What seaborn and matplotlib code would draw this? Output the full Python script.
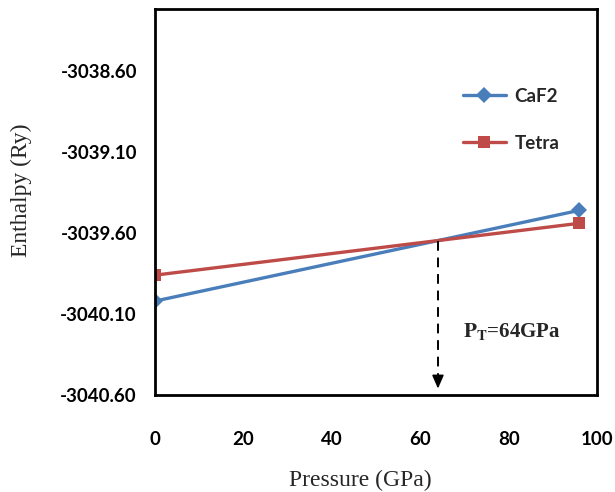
import numpy as np
import pandas as pd
import matplotlib
matplotlib.use("Agg")
import matplotlib.pyplot as plt
import seaborn as sns

# Enthalpy vs pressure for two phases
pressure = [0, 96]
caf2_enthalpy = [-3040.02, -3039.46]
tetra_enthalpy = [-3039.86, -3039.54]
phases = ["CaF2", "Tetra"]
yticks = [-3040.60, -3040.10, -3039.60, -3039.10, -3038.60]
xticks = [0, 20, 40, 60, 80, 100]
transition_label = r"$\mathbf{P_T}$=64GPa"

df = pd.DataFrame({
    "Pressure": pressure * 2,
    "Enthalpy": caf2_enthalpy + tetra_enthalpy,
    "Phase": [phases[0]] * 2 + [phases[1]] * 2,
})

sns.set_style("white")
plt.rcParams["font.family"] = ["Lato", "DejaVu Sans"]

fig = plt.figure(figsize=(6.15, 4.92), dpi=100)
ax = fig.add_axes([0.252, 0.197, 0.719, 0.784])

palette = {"CaF2": "#4A7EBB", "Tetra": "#BE4B48"}
markers = {"CaF2": "D", "Tetra": "s"}
sns.lineplot(data=df, x="Pressure", y="Enthalpy", hue="Phase", style="Phase",
             palette=palette, markers=markers, dashes=False, linewidth=2.4,
             markersize=8.5, markeredgewidth=0, ax=ax)

# Crossing point of the two enthalpy lines
s1 = (caf2_enthalpy[1] - caf2_enthalpy[0]) / (pressure[1] - pressure[0])
s2 = (tetra_enthalpy[1] - tetra_enthalpy[0]) / (pressure[1] - pressure[0])
px = (tetra_enthalpy[0] - caf2_enthalpy[0]) / (s1 - s2)
py = caf2_enthalpy[0] + s1 * px

tip_y = -3040.56
ax.plot([px, px], [py, tip_y + 0.05], color="black", ls=(0, (5, 3.5)), lw=1.4)
ax.annotate("", xy=(px, tip_y), xytext=(px, tip_y + 0.06),
            arrowprops=dict(arrowstyle="-|>,head_width=0.35,head_length=0.8",
                            color="black", lw=1.2, shrinkA=0, shrinkB=0))
ax.text(69.7, -3040.21, transition_label, fontsize=15, fontweight="bold",
        family=["Liberation Serif"], va="center", ha="left",
        math_fontfamily="stix")

ax.set_xlim(0, 100)
ax.set_ylim(-3040.60, -3038.22)
ax.set_xticks(xticks)
ax.set_yticks(yticks)
ax.set_yticklabels([f"{v:.2f}" for v in yticks])
ax.tick_params(axis="both", direction="in", length=5, width=1.5, colors="black",
               labelsize=13.5)
ax.tick_params(axis="y", pad=13)
ax.tick_params(axis="x", pad=26)
for t in ax.get_xticklabels() + ax.get_yticklabels():
    t.set_fontweight("bold")

for sp in ax.spines.values():
    sp.set_visible(True)
    sp.set_color("black")
    sp.set_linewidth(2)

ax.set_xlabel("Pressure (GPa)", family=["Liberation Serif"], fontsize=17)
ax.set_ylabel("Enthalpy (Ry)", family=["Liberation Serif"], fontsize=17)
ax.xaxis.set_label_coords(0.464, -0.195)
ax.yaxis.set_label_coords(-0.279, 0.532)

leg = ax.legend(loc="upper left", bbox_to_anchor=(0.658, 0.84), frameon=False,
                fontsize=13.5, handlelength=2.3, labelspacing=1.6,
                handletextpad=0.45)
for t in leg.get_texts():
    t.set_fontweight("bold")

fig.savefig("out.png", dpi=100)
